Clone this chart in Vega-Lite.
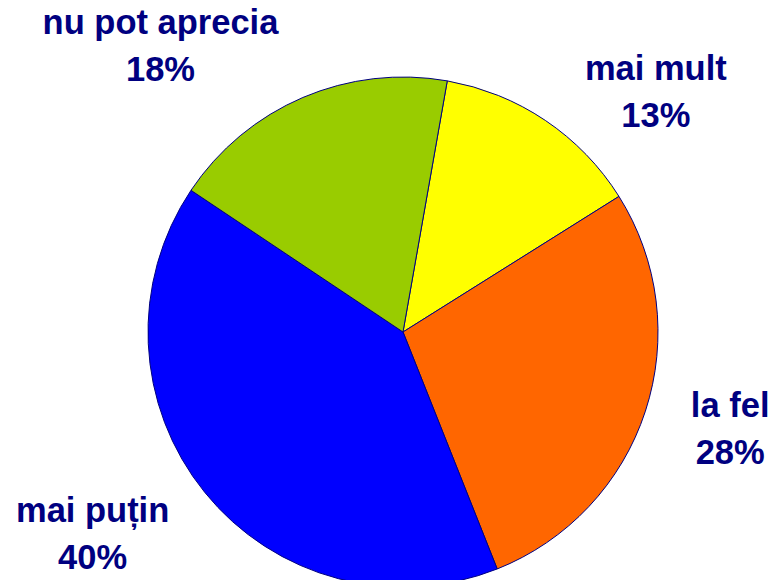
{
  "$schema": "https://vega.github.io/schema/vega-lite/v6.json",
  "width": 744,
  "height": 496,
  "autosize": "none",
  "padding": {"left": 31, "top": 84, "right": 0, "bottom": 0},
  "background": "white",
  "view": {"stroke": null},
  "data": {
    "values": [
      {"category": "mai mult", "value": 13.3, "order": 1},
      {"category": "la fel", "value": 27.9, "order": 2},
      {"category": "mai puțin", "value": 40.4, "order": 3},
      {"category": "nu pot aprecia", "value": 18.4, "order": 4}
    ]
  },
  "transform": [
    {"calculate": "datum.category + '|' + format(datum.value, '.0f') + '%'", "as": "label"}
  ],
  "encoding": {
    "theta": {"field": "value", "type": "quantitative", "stack": true, "scale": {"range": [0.1745, 6.4577]}},
    "order": {"field": "order", "type": "quantitative"},
    "detail": {"field": "category", "type": "nominal"}
  },
  "layer": [
    {
      "mark": {"type": "arc", "outerRadius": 255, "stroke": "#000080", "strokeWidth": 1},
      "encoding": {
        "color": {
          "field": "category",
          "type": "nominal",
          "scale": {
            "domain": ["mai mult", "la fel", "mai puțin", "nu pot aprecia"],
            "range": ["#FFFF00", "#FF6600", "#0000FF", "#99CC00"]
          },
          "legend": null
        }
      }
    },
    {
      "mark": {
        "type": "text",
        "radius": 340,
        "font": "Liberation Sans",
        "fontWeight": "bold",
        "fontSize": 34.5,
        "lineHeight": 47,
        "lineBreak": "|",
        "baseline": "alphabetic",
        "align": "center",
        "color": "#000080",
        "dx": {"expr": "datum.category === 'mai mult' ? 63 : datum.category === 'la fel' ? 4 : datum.category === 'mai puțin' ? -46 : -109"},
        "dy": {"expr": "datum.category === 'mai mult' ? 30 : datum.category === 'la fel' ? -21 : datum.category === 'mai puțin' ? -24 : 15"}
      },
      "encoding": {
        "text": {"field": "label", "type": "nominal"}
      }
    }
  ]
}
